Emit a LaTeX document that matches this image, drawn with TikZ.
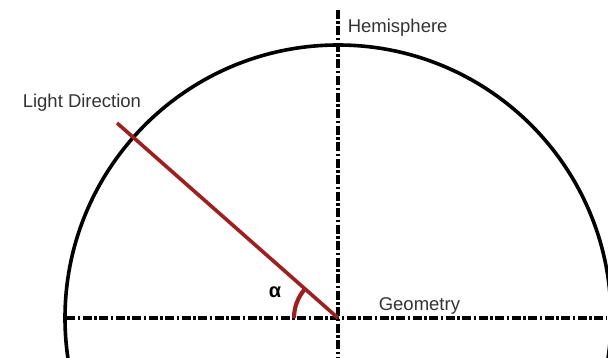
\documentclass[tikz,border=0pt]{standalone}
\usepackage{fontspec}
\setmainfont{Liberation Sans}
\usetikzlibrary{positioning}
\definecolor{raydark}{RGB}{160,30,30}
\begin{document}
\begin{tikzpicture}[x=1pt, y=1pt, line width=3.6pt,
    axis/.style={black, line width=3.8pt, dash pattern=on 9pt off 2.5pt on 2.5pt off 2.5pt},
    lbl/.style={font=\fontsize{18.5}{20}\selectfont, text=black!80, inner sep=0pt}]

    \useasboundingbox (0,0) rectangle (608,357);
    \coordinate (O) at (338,39);
    \coordinate (L) at (117,234);
    \def\rad{273}

    \begin{scope}
      \clip (0,0) rectangle (608,357);
      \draw (O) circle (\rad);
    \end{scope}

    \draw[axis] (66,39) -- (606,39);
    \draw[axis] (338,347) -- (338,0);

    \draw[raydark] (O) -- (L);
    \draw[raydark, line width=4.2pt] ([shift={(180:44)}]O) arc (180:138.6:44);

    \node[lbl, anchor=base west] (hemi) at (346,324) {Hemisphere};
    \node[lbl, anchor=base west] (light) at (21,250) {Light Direction};
    \node[lbl, anchor=base west] (geom) at (377,47) {Geometry};
    \node[lbl, text=black, font=\fontsize{20}{20}\selectfont\bfseries] (alpha) at (275,65) {α};

  \end{tikzpicture}
\end{document}
